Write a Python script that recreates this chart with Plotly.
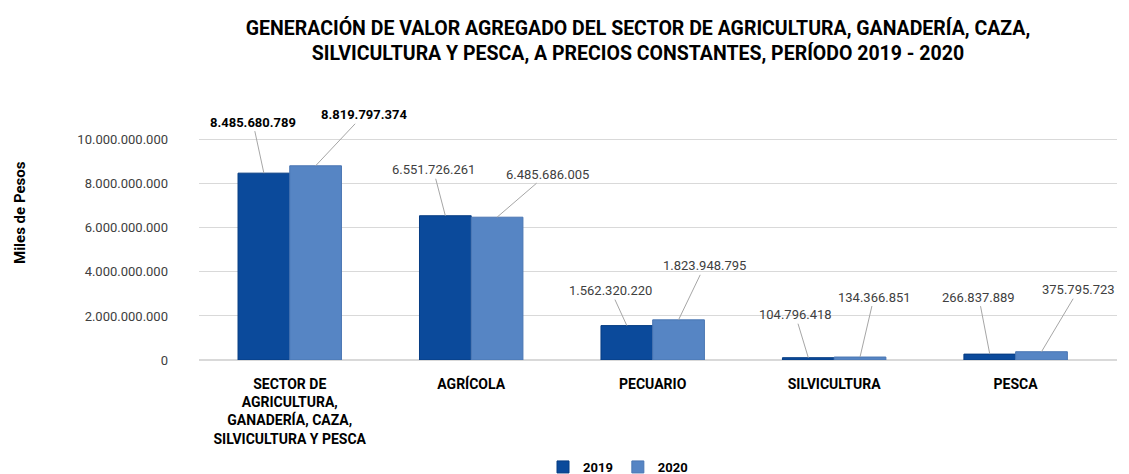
import plotly.graph_objects as go

categories = ["SECTOR DE<br>AGRICULTURA,<br>GANADERÍA, CAZA,<br>SILVICULTURA Y PESCA",
              "AGRÍCOLA", "PECUARIO", "SILVICULTURA", "PESCA"]
values_2019 = [8485680789, 6551726261, 1562320220, 104796418, 266837889]
values_2020 = [8819797374, 6485686005, 1823948795, 134366851, 375795723]
labels_2019 = ["8.485.680.789", "6.551.726.261", "1.562.320.220", "104.796.418", "266.837.889"]
labels_2020 = ["8.819.797.374", "6.485.686.005", "1.823.948.795", "134.366.851", "375.795.723"]
tick_vals = [0, 2e9, 4e9, 6e9, 8e9, 10e9]
tick_text = ["0", "2.000.000.000", "4.000.000.000", "6.000.000.000", "8.000.000.000", "10.000.000.000"]

# label offsets (pixels) from bar top to label centre
offsets_2019 = [(-11, -51), (-12, -46), (-16, -35), (-13, -43), (-11, -57)]
offsets_2020 = [(48, -51), (50, -43), (26, -54), (14, -60), (37, -62)]

C2019 = "#0B4A9B"
C2020 = "#5685C4"
FONT = "Roboto"

L, R, T, B = 191, 20, 123, 122
W, H = 1129, 474
PW, PH = W - L - R, H - T - B

fig = go.Figure()
fig.add_trace(go.Bar(name="2019", x=categories, y=values_2019,
                     marker=dict(color=C2019, line=dict(color="#063c82", width=1))))
fig.add_trace(go.Bar(name="2020", x=categories, y=values_2020,
                     marker=dict(color=C2020, line=dict(color="#4a76b3", width=1))))

bargap = 0.43
bw = (1 - bargap) / 2
annotations = []
for i in range(len(categories)):
    for vals, labs, offs, sgn in ((values_2019, labels_2019, offsets_2019, -1),
                                  (values_2020, labels_2020, offsets_2020, 1)):
        bold = (i == 0)
        annotations.append(dict(
            x=i + sgn * bw / 2, y=vals[i], xref="x", yref="y",
            text=labs[i], showarrow=True, arrowhead=0, arrowwidth=1, arrowcolor="#a6a6a6",
            ax=offs[i][0], ay=offs[i][1], axref="pixel", ayref="pixel", standoff=0,
            font=dict(family=FONT, size=13, color="#000000" if bold else "#404040",
                      weight="bold" if bold else "normal"),
        ))

annotations.append(dict(
    x=(12 - L) / PW, y=(H - B - 205) / PH, xref="paper", yref="paper",
    xanchor="center", yanchor="middle",
    text="<b>Miles de Pesos</b>", showarrow=False, textangle=-90,
    font=dict(family=FONT, size=15, color="#000000"),
))

fig.update_layout(
    width=W, height=H,
    margin=dict(l=L, r=R, t=T, b=B, autoexpand=False),
    paper_bgcolor="white", plot_bgcolor="white",
    barmode="group", bargap=bargap, bargroupgap=0,
    title=dict(text="GENERACIÓN DE VALOR AGREGADO DEL SECTOR DE AGRICULTURA, GANADERÍA, CAZA,<br>SILVICULTURA Y PESCA, A PRECIOS CONSTANTES, PERÍODO 2019 - 2020",
               x=630 / W, xanchor="center", xref="container", y=1 - 27 / H, yanchor="top",
               font=dict(family=FONT, size=19.5, color="#000000", weight="bold")),
    xaxis=dict(tickfont=dict(family=FONT, size=14, color="#000000", weight="bold"),
               showline=False, ticks="", tickangle=0, automargin=False, ticklabelstandoff=14),
    yaxis=dict(range=[0, 10.4e9], tickvals=tick_vals, ticktext=tick_text,
               tickfont=dict(family=FONT, size=13, color="#404040"),
               showgrid=True, gridcolor="#d9d9d9", zeroline=True, zerolinecolor="#d9d9d9",
               ticks="", automargin=False, ticklabelstandoff=30),
    legend=dict(orientation="h", x=610 / W, xanchor="center", xref="container",
                y=1 - 459 / H, yanchor="middle", yref="container",
                itemwidth=30, font=dict(family=FONT, size=13, color="#000000", weight="bold"),
                traceorder="normal"),
    annotations=annotations,
    showlegend=True,
)

fig.write_html("out.html")
